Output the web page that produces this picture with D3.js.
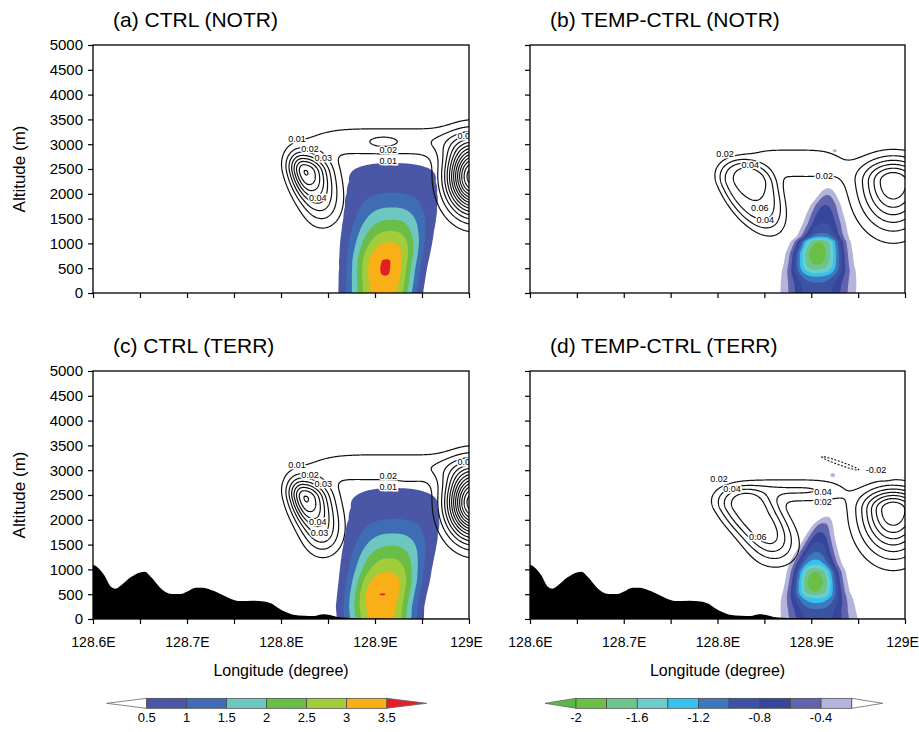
<!DOCTYPE html>
<html>
<head>
<meta charset="utf-8">
<script src="https://cdn.jsdelivr.net/npm/d3@7"></script>
<style>
  body { margin: 0; background: #fff; }
  svg { display: block; }
  text { font-family: "Liberation Sans", Arial, sans-serif; fill: #000; }
</style>
</head>
<body>
<svg id="chart" width="919" height="732"></svg>
<script>
// ---------------- axes ----------------
const lonDomain = [128.6, 129.0];
const altDomain = [0, 5000];
const lonTicks = [128.6, 128.65, 128.7, 128.75, 128.8, 128.85, 128.9, 128.95, 129.0];
const lonLabelValues = [128.6, 128.7, 128.8, 128.9, 129.0];
const lonLabels = ["128.6E", "128.7E", "128.8E", "128.9E", "129E"];
const altTicks = [0, 500, 1000, 1500, 2000, 2500, 3000, 3500, 4000, 4500, 5000];

// ---------------- shading levels ----------------
const ctrlLevels = [0.5, 1, 1.5, 2, 2.5, 3, 3.5];
const ctrlColors = ["#4a56a6", "#3f6db5", "#6cc7c0", "#6abd46", "#a3cc3b", "#f9b016", "#e41e26"];
const diffLevels = [-2, -1.8, -1.6, -1.4, -1.2, -1.0, -0.8, -0.6, -0.4, -0.2];
// first colour: below -2; then one colour per interval up to -0.2
const diffColors = ["#5cb845", "#6bbf47", "#6cc48e", "#6dcccc", "#35c2ef", "#3d77bd", "#3c53a4", "#36469b", "#6163ad", "#b3b3db"];
const ctrlBarLabels = [0.5, 1, 1.5, 2, 2.5, 3, 3.5];
const diffBarLabels = [-2, -1.6, -1.2, -0.8, -0.4];

// ---------------- shaded field: vertical profiles of the plume ----------------
// altitude (m), core value, core longitude, west / east half-widths (deg)
const ctrlNotrAlt  = [0, 250, 400, 500, 650, 750, 1000, 1250, 1500, 1750, 2000, 2250, 2500, 2620, 2760];
const ctrlNotrPeak = [3.3, 3.46, 3.52, 3.53, 3.52, 3.45, 3.05, 2.5, 1.95, 1.45, 1.02, 0.8, 0.6, 0.5, 0];
const ctrlNotrLon  = [128.910, 128.911, 128.911, 128.911, 128.912, 128.913, 128.916, 128.917, 128.918, 128.918, 128.918, 128.918, 128.918, 128.918, 128.918];
const ctrlNotrWest = [0.038, 0.0382, 0.038, 0.0376, 0.0385, 0.0391, 0.042, 0.0435, 0.0457, 0.0487, 0.0551, 0.0617, 0.0776, 0.083, 0.083];
const ctrlNotrEast = [0.0319, 0.0324, 0.0332, 0.0339, 0.0344, 0.0347, 0.0353, 0.0378, 0.0415, 0.0467, 0.055, 0.0628, 0.08, 0.083, 0.083];

const ctrlTerrAlt  = [0, 250, 500, 750, 1000, 1250, 1500, 1750, 2000, 2250, 2500, 2640, 2780];
const ctrlTerrPeak = [3.25, 3.4, 3.51, 3.35, 2.9, 2.45, 1.95, 1.45, 1.02, 0.8, 0.6, 0.5, 0];
const ctrlTerrLon  = [128.907, 128.907, 128.908, 128.911, 128.914, 128.916, 128.918, 128.919, 128.92, 128.92, 128.92, 128.92, 128.92];
const ctrlTerrWest = [0.037, 0.0375, 0.037, 0.0385, 0.041, 0.043, 0.0455, 0.0487, 0.0551, 0.0617, 0.0776, 0.083, 0.083];
const ctrlTerrEast = [0.035, 0.035, 0.036, 0.0365, 0.037, 0.039, 0.042, 0.0467, 0.055, 0.0628, 0.08, 0.083, 0.083];

const diffNotrAlt  = [0, 200, 330, 450, 565, 800, 1034, 1100, 1135, 1210, 1411, 1600, 1774, 1976, 2111, 2200];
const diffNotrPeak = [-0.9, -0.98, -1.2, -1.55, -1.8, -1.95, -1.8, -1.4, -1.2, -1.0, -0.8, -0.7, -0.6, -0.4, -0.2, 0];
const diffNotrLon  = [128.906, 128.906, 128.906, 128.906, 128.906, 128.906, 128.908, 128.909, 128.91, 128.911, 128.913, 128.914, 128.915, 128.917, 128.918, 128.918];
const diffNotrWest = [0.033, 0.032, 0.03, 0.028, 0.026, 0.024, 0.022, 0.021, 0.0206, 0.0203, 0.019, 0.0174, 0.015, 0.0105, 0.008, 0.008];
const diffNotrEast = [0.0355, 0.035, 0.033, 0.031, 0.029, 0.0275, 0.025, 0.024, 0.0238, 0.023, 0.021, 0.0183, 0.016, 0.011, 0.008, 0.008];

const diffTerrAlt  = [0, 200, 383, 550, 750, 955, 1130, 1300, 1500, 1700, 1900, 2062, 2150];
const diffTerrPeak = [-0.88, -1.0, -1.3, -1.8, -1.95, -1.8, -1.3, -1.05, -0.85, -0.65, -0.45, -0.2, 0];
const diffTerrLon  = [128.9075, 128.906, 128.905, 128.904, 128.904, 128.904, 128.904, 128.905, 128.907, 128.909, 128.912, 128.9165, 128.9165];
const diffTerrWest = [0.034, 0.032, 0.029, 0.025, 0.023, 0.022, 0.021, 0.019, 0.016, 0.0135, 0.011, 0.008, 0.008];
const diffTerrEast = [0.036, 0.034, 0.031, 0.027, 0.025, 0.024, 0.022, 0.02, 0.017, 0.0145, 0.012, 0.008, 0.008];

// small isolated shaded patches aloft
const diffNotrPatches = [{lon: 128.925, alt: 2870, amp: -0.26, sx: 0.003, sy: 45}];
const diffTerrPatches = [{lon: 128.923, alt: 2900, amp: -0.26, sx: 0.0035, sy: 55}];

// ---------------- contoured field: cloud cells ----------------
const ctrlNotrCells = [
  {lon: 128.826, alt: 2440, amp: 0.08, sx: 0.012, sxe: 0.018, sy: 270, syb: 430, tilt: -0.012},
  {lon: 128.845, alt: 1700, amp: 0.016, sx: 0.014, sy: 320},
  {lon: 128.915, alt: 3060, amp: 0.018, sx: 0.075, sy: 230, px: 4},
  {lon: 128.909, alt: 3040, amp: 0.006, sx: 0.01, sy: 90},
  {lon: 129.005, alt: 2350, amp: 0.15, sx: 0.019, sy: 480}
];
const ctrlTerrCells = [
  {lon: 128.826, alt: 2440, amp: 0.08, sx: 0.012, sxe: 0.018, sy: 270, syb: 430, tilt: -0.012},
  {lon: 128.845, alt: 1700, amp: 0.024, sx: 0.014, sy: 320},
  {lon: 128.915, alt: 3060, amp: 0.018, sx: 0.075, sy: 230, px: 4},
  {lon: 128.936, alt: 2870, amp: 0.006, sx: 0.008, sy: 60},
  {lon: 129.005, alt: 2350, amp: 0.15, sx: 0.019, sy: 480}
];
const diffNotrCells = [
  {lon: 128.833, alt: 2180, amp: 0.08, sx: 0.026, sy: 420, syb: 800, tilt: -0.022, p: 4},
  {lon: 128.833, alt: 2180, amp: 0.008, sx: 0.0015, sy: 25},
  {lon: 128.88, alt: 2615, amp: 0.03, sx: 0.05, sy: 294, px: 4},
  {lon: 128.9875, alt: 2245, amp: 0.14, sx: 0.025, sy: 330, syb: 630}
];
const diffTerrCells = [
  {lon: 128.834, alt: 2200, amp: 0.09, sx: 0.026, sy: 330, syb: 650, tilt: -0.03, p: 3},
  {lon: 128.858, alt: 1450, amp: 0.03, sx: 0.02, sy: 350},
  {lon: 128.875, alt: 2595, amp: 0.042, sx: 0.05, sy: 172, px: 4},
  {lon: 128.9875, alt: 2200, amp: 0.16, sx: 0.024, sy: 300, syb: 600},
  {lon: 128.932, alt: 3130, amp: -0.03, sx: 0.006, sy: 160, tilt: -0.14}
];
const ctrlLineLevels = [0.01, 0.02, 0.03, 0.04, 0.05, 0.06, 0.07, 0.08, 0.09, 0.10, 0.11, 0.12, 0.13, 0.14];
const diffLineLevels = [0.02, 0.04, 0.06, 0.08, 0.10, 0.12, 0.14, 0.16, 0.18];
const negLineLevels = [0.02];

// contour labels
const ctrlNotrLabels = [
  {lon: 128.817, alt: 3105, text: "0.01"}, {lon: 128.831, alt: 2913, text: "0.02"},
  {lon: 128.845, alt: 2722, text: "0.03"}, {lon: 128.839, alt: 1915, text: "0.04"},
  {lon: 128.914, alt: 2880, text: "0.02"}, {lon: 128.914, alt: 2660, text: "0.01"},
  {lon: 128.997, alt: 3165, text: "0.01"}
];
const ctrlTerrLabels = [
  {lon: 128.817, alt: 3105, text: "0.01"}, {lon: 128.831, alt: 2913, text: "0.02"},
  {lon: 128.845, alt: 2722, text: "0.03"}, {lon: 128.839, alt: 1950, text: "0.04"},
  {lon: 128.841, alt: 1740, text: "0.03"},
  {lon: 128.914, alt: 2880, text: "0.02"}, {lon: 128.914, alt: 2660, text: "0.01"},
  {lon: 128.997, alt: 3165, text: "0.01"}
];
const diffNotrLabels = [
  {lon: 128.808, alt: 2802, text: "0.02"}, {lon: 128.835, alt: 2581, text: "0.04"},
  {lon: 128.914, alt: 2359, text: "0.02"}, {lon: 128.845, alt: 1714, text: "0.06"},
  {lon: 128.851, alt: 1472, text: "0.04"}
];
const diffTerrLabels = [
  {lon: 128.8016, alt: 2823, text: "0.02"}, {lon: 128.8155, alt: 2621, text: "0.04"},
  {lon: 128.9125, alt: 2570, text: "0.04"}, {lon: 128.9125, alt: 2350, text: "0.02"},
  {lon: 128.843, alt: 1653, text: "0.06"}, {lon: 128.969, alt: 3004, text: "-0.02"}
];

// ---------------- terrain ----------------
const terrainLon = [128.59, 128.600, 128.605, 128.612, 128.619, 128.624, 128.630, 128.640, 128.650, 128.655,
  128.662, 128.670, 128.677, 128.684, 128.693, 128.701, 128.709, 128.717, 128.725, 128.734, 128.745, 128.755,
  128.770, 128.782, 128.790, 128.797, 128.805, 128.813, 128.825, 128.835, 128.845, 128.852, 128.860, 128.870,
  128.880, 128.900, 128.950, 129.01];
const terrainAlt = [1090, 1090, 1040, 880, 650, 610, 680, 840, 940, 955,
  840, 660, 545, 505, 505, 560, 630, 630, 590, 520, 420, 365,
  370, 355, 310, 220, 140, 85, 65, 60, 95, 80, 40, 25,
  15, 10, 5, 5];

// ---------------- field construction ----------------
const grid = {lon0: 128.59, dLon: 0.001, nx: 421, alt0: -100, dAlt: 10, ny: 521};

function cellField(cells) {
  return alt => {
    const rows = cells.map(c => {
      const sy = alt >= c.alt ? c.sy : (c.syb || c.sy);
      const dy = (alt - c.alt) / sy;
      return {c, dy2: dy * dy, lc: c.lon + (c.tilt || 0) * (alt - c.alt) / 1000};
    });
    return lon => {
      let s = 0;
      for (const r of rows) {
        const d = lon - r.lc;
        const dx = Math.abs(d) / (d > 0 ? (r.c.sxe || r.c.sx) : r.c.sx);
        let q = Math.pow(dx, r.c.px || 2) + r.dy2;
        if (r.c.p) q = Math.pow(q, r.c.p / 2);
        s += r.c.amp * Math.exp(-0.5 * q);
      }
      return s;
    };
  };
}

function plumeField(alts, peak, lon, west, east, patches) {
  const sc = arr => d3.scaleLinear().domain(alts).range(arr).clamp(true);
  const P = sc(peak), C = sc(lon), WL = sc(west), WR = sc(east);
  const extra = cellField(patches || []);
  return alt => {
    const p = P(alt), c = C(alt), wl = WL(alt), wr = WR(alt), e = extra(alt);
    return x => {
      const d = x - c;
      const w = d < 0 ? wl : wr;
      return p * Math.exp(-Math.pow(Math.abs(d) / w, 2.5)) + e(x);
    };
  };
}

function sample(field, sign) {
  const v = new Float64Array(grid.nx * grid.ny);
  for (let j = 0; j < grid.ny; j++) {
    const row = field(grid.alt0 + j * grid.dAlt);
    for (let i = 0; i < grid.nx; i++) v[j * grid.nx + i] = sign * row(grid.lon0 + i * grid.dLon);
  }
  return v;
}

// ---------------- drawing ----------------
const svg = d3.select("#chart");
const defs = svg.append("defs");

const panels = [
  {id: "a", title: "(a) CTRL (NOTR)", x0: 93, x1: 469, y0: 45, y1: 293, left: true, bottom: false, kind: "ctrl",
   shade: plumeField(ctrlNotrAlt, ctrlNotrPeak, ctrlNotrLon, ctrlNotrWest, ctrlNotrEast),
   cells: ctrlNotrCells, levels: ctrlLineLevels, labels: ctrlNotrLabels, terrain: false},
  {id: "b", title: "(b) TEMP-CTRL (NOTR)", x0: 530, x1: 905, y0: 45, y1: 293, left: false, bottom: false, kind: "diff",
   shade: plumeField(diffNotrAlt, diffNotrPeak, diffNotrLon, diffNotrWest, diffNotrEast, diffNotrPatches),
   cells: diffNotrCells, levels: diffLineLevels, labels: diffNotrLabels, terrain: false},
  {id: "c", title: "(c) CTRL (TERR)", x0: 93, x1: 469, y0: 371, y1: 619, left: true, bottom: true, kind: "ctrl",
   shade: plumeField(ctrlTerrAlt, ctrlTerrPeak, ctrlTerrLon, ctrlTerrWest, ctrlTerrEast),
   cells: ctrlTerrCells, levels: ctrlLineLevels, labels: ctrlTerrLabels, terrain: true},
  {id: "d", title: "(d) TEMP-CTRL (TERR)", x0: 530, x1: 905, y0: 371, y1: 619, left: false, bottom: true, kind: "diff",
   shade: plumeField(diffTerrAlt, diffTerrPeak, diffTerrLon, diffTerrWest, diffTerrEast, diffTerrPatches),
   cells: diffTerrCells, levels: diffLineLevels, labels: diffTerrLabels, terrain: true}
];

function drawPanel(cfg) {
  const xs = d3.scaleLinear().domain(lonDomain).range([cfg.x0, cfg.x1]);
  const ys = d3.scaleLinear().domain(altDomain).range([cfg.y1, cfg.y0]);
  const g = svg.append("g").attr("class", "panel-" + cfg.id);
  const clipId = "clip-" + cfg.id;
  defs.append("clipPath").attr("id", clipId).append("rect")
    .attr("x", cfg.x0).attr("y", cfg.y0).attr("width", cfg.x1 - cfg.x0).attr("height", cfg.y1 - cfg.y0);
  const plot = g.append("g").attr("clip-path", `url(#${clipId})`);

  const proj = d3.geoTransform({
    point(x, y) {
      this.stream.point(xs(grid.lon0 + (x - 0.5) * grid.dLon), ys(grid.alt0 + (y - 0.5) * grid.dAlt));
    }
  });
  const path = d3.geoPath(proj);
  const contours = d3.contours().size([grid.nx, grid.ny]);

  // shaded bands
  if (cfg.kind === "ctrl") {
    const vals = sample(cfg.shade, 1);
    plot.append("g").selectAll("path")
      .data(contours.thresholds(ctrlLevels)(vals))
      .join("path").attr("d", path).attr("fill", (d, i) => ctrlColors[i]);
  } else {
    const vals = sample(cfg.shade, -1);
    const th = diffLevels.map(v => -v).reverse();
    plot.append("g").selectAll("path")
      .data(contours.thresholds(th)(vals))
      .join("path").attr("d", path).attr("fill", (d, i) => diffColors[diffColors.length - 1 - i]);
  }

  // terrain
  if (cfg.terrain) {
    const area = d3.area()
      .x((d, i) => xs(terrainLon[i]))
      .y0(ys(-200))
      .y1((d, i) => ys(terrainAlt[i]))
      .curve(d3.curveMonotoneX);
    plot.append("path").attr("d", area(terrainAlt)).attr("fill", "#000");
  }

  // contour lines
  const lineField = cellField(cfg.cells);
  plot.append("g").selectAll("path")
    .data(contours.thresholds(cfg.levels)(sample(lineField, 1)))
    .join("path").attr("d", path)
    .attr("fill", "none").attr("stroke", "#111").attr("stroke-width", 1.2).attr("stroke-linejoin", "round");
  if (cfg.cells.some(c => c.amp < 0)) {
    plot.append("g").selectAll("path")
      .data(contours.thresholds(negLineLevels)(sample(lineField, -1)))
      .join("path").attr("d", path)
      .attr("fill", "none").attr("stroke", "#111").attr("stroke-width", 1.1)
      .attr("stroke-dasharray", "2,1.6");
  }

  // contour labels
  plot.append("g").selectAll("text")
    .data(cfg.labels)
    .join("text")
    .attr("x", d => xs(d.lon)).attr("y", d => ys(d.alt))
    .attr("text-anchor", "middle").attr("dominant-baseline", "central")
    .attr("font-size", 9)
    .attr("stroke", "#fff").attr("stroke-width", 3).attr("paint-order", "stroke")
    .text(d => d.text);

  // frame
  g.append("rect").attr("x", cfg.x0).attr("y", cfg.y0)
    .attr("width", cfg.x1 - cfg.x0).attr("height", cfg.y1 - cfg.y0)
    .attr("fill", "none").attr("stroke", "#000").attr("stroke-width", 1.3);

  // axes
  const yAxis = g.append("g").attr("transform", `translate(${cfg.x0},0)`)
    .call(d3.axisLeft(ys).tickValues(altTicks).tickSize(5).tickPadding(5)
      .tickFormat(cfg.left ? d3.format("d") : () => ""));
  const xAxis = g.append("g").attr("transform", `translate(0,${cfg.y1})`)
    .call(d3.axisBottom(xs).tickValues(lonTicks).tickSize(5).tickPadding(13)
      .tickFormat(d => {
        if (!cfg.bottom) return "";
        const k = lonLabelValues.findIndex(v => Math.abs(v - d) < 1e-9);
        return k >= 0 ? lonLabels[k] : "";
      }));
  [yAxis, xAxis].forEach(a => {
    a.select(".domain").remove();
    a.selectAll(".tick line").attr("stroke", "#000").attr("stroke-width", 1.2);
    a.selectAll("text").attr("fill", "#000")
      .attr("font-family", '"Liberation Sans", Arial, sans-serif');
  });
  yAxis.selectAll("text").attr("font-size", 15);
  xAxis.selectAll("text").attr("font-size", 14)
    .attr("dx", d => (Math.abs(d - 129) < 1e-9 ? -3 : 0));

  // titles
  g.append("text").attr("x", cfg.x0 + 20).attr("y", cfg.y0 - 18)
    .attr("font-size", 21).text(cfg.title);
  if (cfg.left) {
    g.append("text")
      .attr("transform", `translate(25,${(cfg.y0 + cfg.y1) / 2}) rotate(-90)`)
      .attr("text-anchor", "middle").attr("font-size", 17).text("Altitude (m)");
  }
  if (cfg.bottom) {
    g.append("text").attr("x", (cfg.x0 + cfg.x1) / 2).attr("y", 676)
      .attr("text-anchor", "middle").attr("font-size", 16).text("Longitude (degree)");
  }
}

panels.forEach(drawPanel);

// ---------------- colour bars ----------------
function colorBar(cfg) {
  const g = svg.append("g");
  const x = d3.scaleLinear().domain([cfg.levels[0], cfg.levels[cfg.levels.length - 1]]).range([cfg.x0, cfg.x1]);
  const yTop = cfg.y, yBot = cfg.y + 10, yMid = cfg.y + 5;
  g.append("path")
    .attr("d", `M${cfg.x0},${yTop}L${cfg.x0 - cfg.tip},${yMid}L${cfg.x0},${yBot}Z`)
    .attr("fill", cfg.lowColor).attr("stroke", "#666").attr("stroke-width", 0.8);
  g.append("path")
    .attr("d", `M${cfg.x1},${yTop}L${cfg.x1 + cfg.tip},${yMid}L${cfg.x1},${yBot}Z`)
    .attr("fill", cfg.highColor).attr("stroke", "#666").attr("stroke-width", 0.8);
  g.selectAll("rect").data(cfg.levels.slice(0, -1)).join("rect")
    .attr("x", (d) => x(d)).attr("y", yTop)
    .attr("width", (d, i) => x(cfg.levels[i + 1]) - x(d)).attr("height", 10)
    .attr("fill", (d, i) => cfg.colors[i]).attr("stroke", "#444").attr("stroke-width", 0.7);
  g.selectAll("text").data(cfg.labels).join("text")
    .attr("x", d => x(d)).attr("y", cfg.y + 24)
    .attr("text-anchor", "middle").attr("font-size", 13)
    .text(d => String(d));
}

colorBar({levels: ctrlLevels, colors: ctrlColors.slice(0, 6), x0: 146.7, x1: 386.7, y: 698.3, tip: 40,
  lowColor: "#fff", highColor: ctrlColors[6], labels: ctrlBarLabels});
colorBar({levels: diffLevels, colors: diffColors.slice(1), x0: 576, x1: 851.7, y: 698.3, tip: 31,
  lowColor: diffColors[0], highColor: "#fff", labels: diffBarLabels});
</script>
</body>
</html>
